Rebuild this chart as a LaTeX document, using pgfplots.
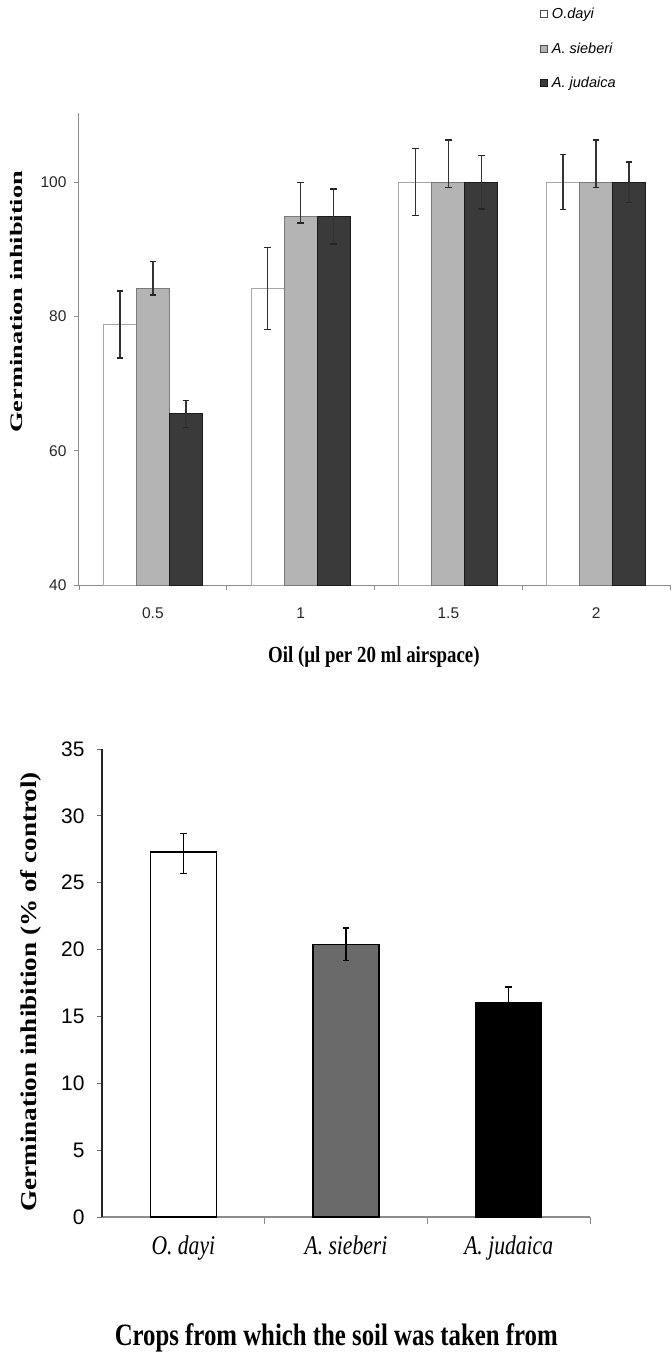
\documentclass[border=0pt]{standalone}
\usepackage{fontspec}
\setmainfont{Liberation Serif}
\newfontfamily\arial{Liberation Sans}
\newfontfamily\serTopY[FakeStretch=1.5]{Liberation Serif}
\newfontfamily\serTopX[FakeStretch=0.82]{Liberation Serif}
\newfontfamily\serBotY[FakeStretch=1.2]{Liberation Serif}
\newfontfamily\serBot[FakeStretch=0.8]{Liberation Serif}
\usepackage{pgfplots}
\pgfplotsset{compat=1.18}
\definecolor{gedge}{HTML}{A8A8A8}
\definecolor{gfill}{HTML}{B4B4B4}
\definecolor{gfilledge}{HTML}{7A7A7A}
\definecolor{dfill}{HTML}{3A3A3A}
\definecolor{dedge}{HTML}{1A1A1A}
\definecolor{bgray}{HTML}{6A6A6A}
\definecolor{axgray}{HTML}{8C8C8C}
\begin{document}
\begin{tikzpicture}
\useasboundingbox (0,0) rectangle (672pt,-1358pt);
% ---------------- top chart ----------------
\begin{axis}[
  at={(79pt,-585pt)}, anchor=south west,
  scale only axis, width=591pt, height=472pt,
  xmin=-0.5, xmax=3.5, ymin=40, ymax=110.3,
  enlargelimits=false,
  axis x line=bottom, axis y line=left,
  x axis line style={-, draw=axgray, line width=1pt},
  y axis line style={-, draw=axgray, line width=1pt},
  ybar=0pt, bar width=33pt,
  xtick={0,1,2,3}, xticklabels={0.5,1,1.5,2},
  major x tick style={draw=none},
  minor xtick={-0.5,0.5,1.5,2.5,3.5},
  minor x tick style={draw=axgray, line width=0.8pt},
  minor tick length=5pt,
  ytick={40,60,80,100},
  major y tick style={draw=axgray, line width=0.8pt},
  major tick length=5pt,
  tick align=outside,
  /pgf/number format/assume math mode=true,
  yticklabel style={font=\arial\fontsize{15.5}{18}\selectfont, xshift=-4pt, text=black!85},
  xticklabel style={font=\arial\fontsize{15.5}{18}\selectfont, yshift=-14pt, text=black!85},
  ylabel={\serTopY\bfseries\fontsize{17.6}{20}\selectfont Germination inhibition},
  ylabel style={at={(axis description cs:-0.105,0.600)}, anchor=center, rotate=0},
  xlabel={\serTopX\bfseries\fontsize{23}{26}\selectfont Oil (\textmu l per 20 ml airspace)},
  xlabel style={at={(axis description cs:0.499,-0.1525)}, anchor=center},
  legend style={at={(axis description cs:0.78,1.225)}, anchor=north west, draw=none, fill=none,
     font=\arial\itshape\fontsize{14.5}{16}\selectfont, row sep=20.5pt, inner sep=0pt,
     nodes={inner sep=1pt}},
  legend cell align=left,
  error bars/error bar style={line width=1.3pt, draw=black!80},
  error bars/error mark options={rotate=90, line width=1.3pt, mark size=3.2pt, draw=black!85},
]
\addplot[fill=white, draw=gedge, line width=1pt,
  legend image code/.code={\draw[fill=white, draw=black!70, line width=0.8pt] (0pt,-3.5pt) rectangle (7pt,3.5pt);},
  error bars/.cd, y dir=both, y explicit]
  coordinates {(0,78.8) +- (0,5.0) (1,84.2) +- (0,6.1) (2,100) +- (0,5.0) (3,100) +- (0,4.1)};
\addlegendentry{\hspace{3pt}O.dayi}
\addplot[fill=gfill, draw=gfilledge, line width=1pt,
  legend image code/.code={\draw[fill=gfill, draw=black!70, line width=0.8pt] (0pt,-3.5pt) rectangle (7pt,3.5pt);},
  error bars/.cd, y dir=both, y explicit]
  coordinates {(0,84.2) += (0,4.0) -= (0,1.0) (1,94.9) += (0,5.1) -= (0,1.0)
               (2,100) += (0,6.3) -= (0,0.8) (3,100) += (0,6.3) -= (0,0.8)};
\addlegendentry{\hspace{3pt}A. sieberi}
\addplot[fill=dfill, draw=dedge, line width=1pt,
  legend image code/.code={\draw[fill=dfill, draw=dedge, line width=0.8pt] (0pt,-3.5pt) rectangle (7pt,3.5pt);},
  error bars/.cd, y dir=both, y explicit]
  coordinates {(0,65.5) +- (0,2.0) (1,94.9) +- (0,4.1) (2,100) +- (0,4.0) (3,100) +- (0,3.0)};
\addlegendentry{\hspace{3pt}A. judaica}
\end{axis}
% ---------------- bottom chart ----------------
\begin{axis}[
  at={(102pt,-1217pt)}, anchor=south west,
  scale only axis, width=488pt, height=468pt,
  xmin=-0.5, xmax=2.5, ymin=0, ymax=35,
  enlargelimits=false,
  axis x line=bottom, axis y line=left,
  x axis line style={-, draw=black!45, line width=1.2pt},
  y axis line style={-, draw=black!85, line width=1.2pt},
  ybar=0pt, bar width=66pt,
  xtick={0,1,2}, xticklabels={O. dayi, A. sieberi, A. judaica},
  major x tick style={draw=none},
  minor xtick={0.5,1.5,2.5},
  minor x tick style={draw=black!45, line width=1pt},
  minor tick length=7pt,
  ytick={0,5,...,35},
  major y tick style={draw=black!60, line width=1pt},
  major tick length=5pt,
  tick align=outside,
  /pgf/number format/assume math mode=true,
  yticklabel style={font=\arial\fontsize{21}{24}\selectfont, xshift=-9pt},
  xticklabel style={font=\serBot\itshape\fontsize{27}{30}\selectfont, yshift=-10pt},
  ylabel={\serBotY\bfseries\fontsize{22.6}{26}\selectfont Germination inhibition (\% of control)},
  ylabel style={at={(axis description cs:-0.1455,0.481)}, anchor=center, rotate=0},
  xlabel={\serBot\bfseries\fontsize{31}{34}\selectfont Crops from which the soil was taken from},
  xlabel style={at={(axis description cs:0.48,-0.2585)}, anchor=center},
  error bars/error bar style={line width=1.4pt, draw=black},
  error bars/error mark options={rotate=90, line width=1.4pt, mark size=3.2pt, draw=black},
]
\addplot[fill=white, draw=black, line width=1.3pt, bar shift=0pt,
  error bars/.cd, y dir=both, y explicit]
  coordinates {(0,27.3) += (0,1.4) -= (0,1.6)};
\addplot[fill=bgray, draw=black, line width=1.3pt, bar shift=0pt,
  error bars/.cd, y dir=both, y explicit]
  coordinates {(1,20.4) +- (0,1.2)};
\addplot[fill=black, draw=black, line width=1.3pt, bar shift=0pt,
  error bars/.cd, y dir=both, y explicit]
  coordinates {(2,16.0) +- (0,1.2)};
\end{axis}
\end{tikzpicture}
\end{document}
